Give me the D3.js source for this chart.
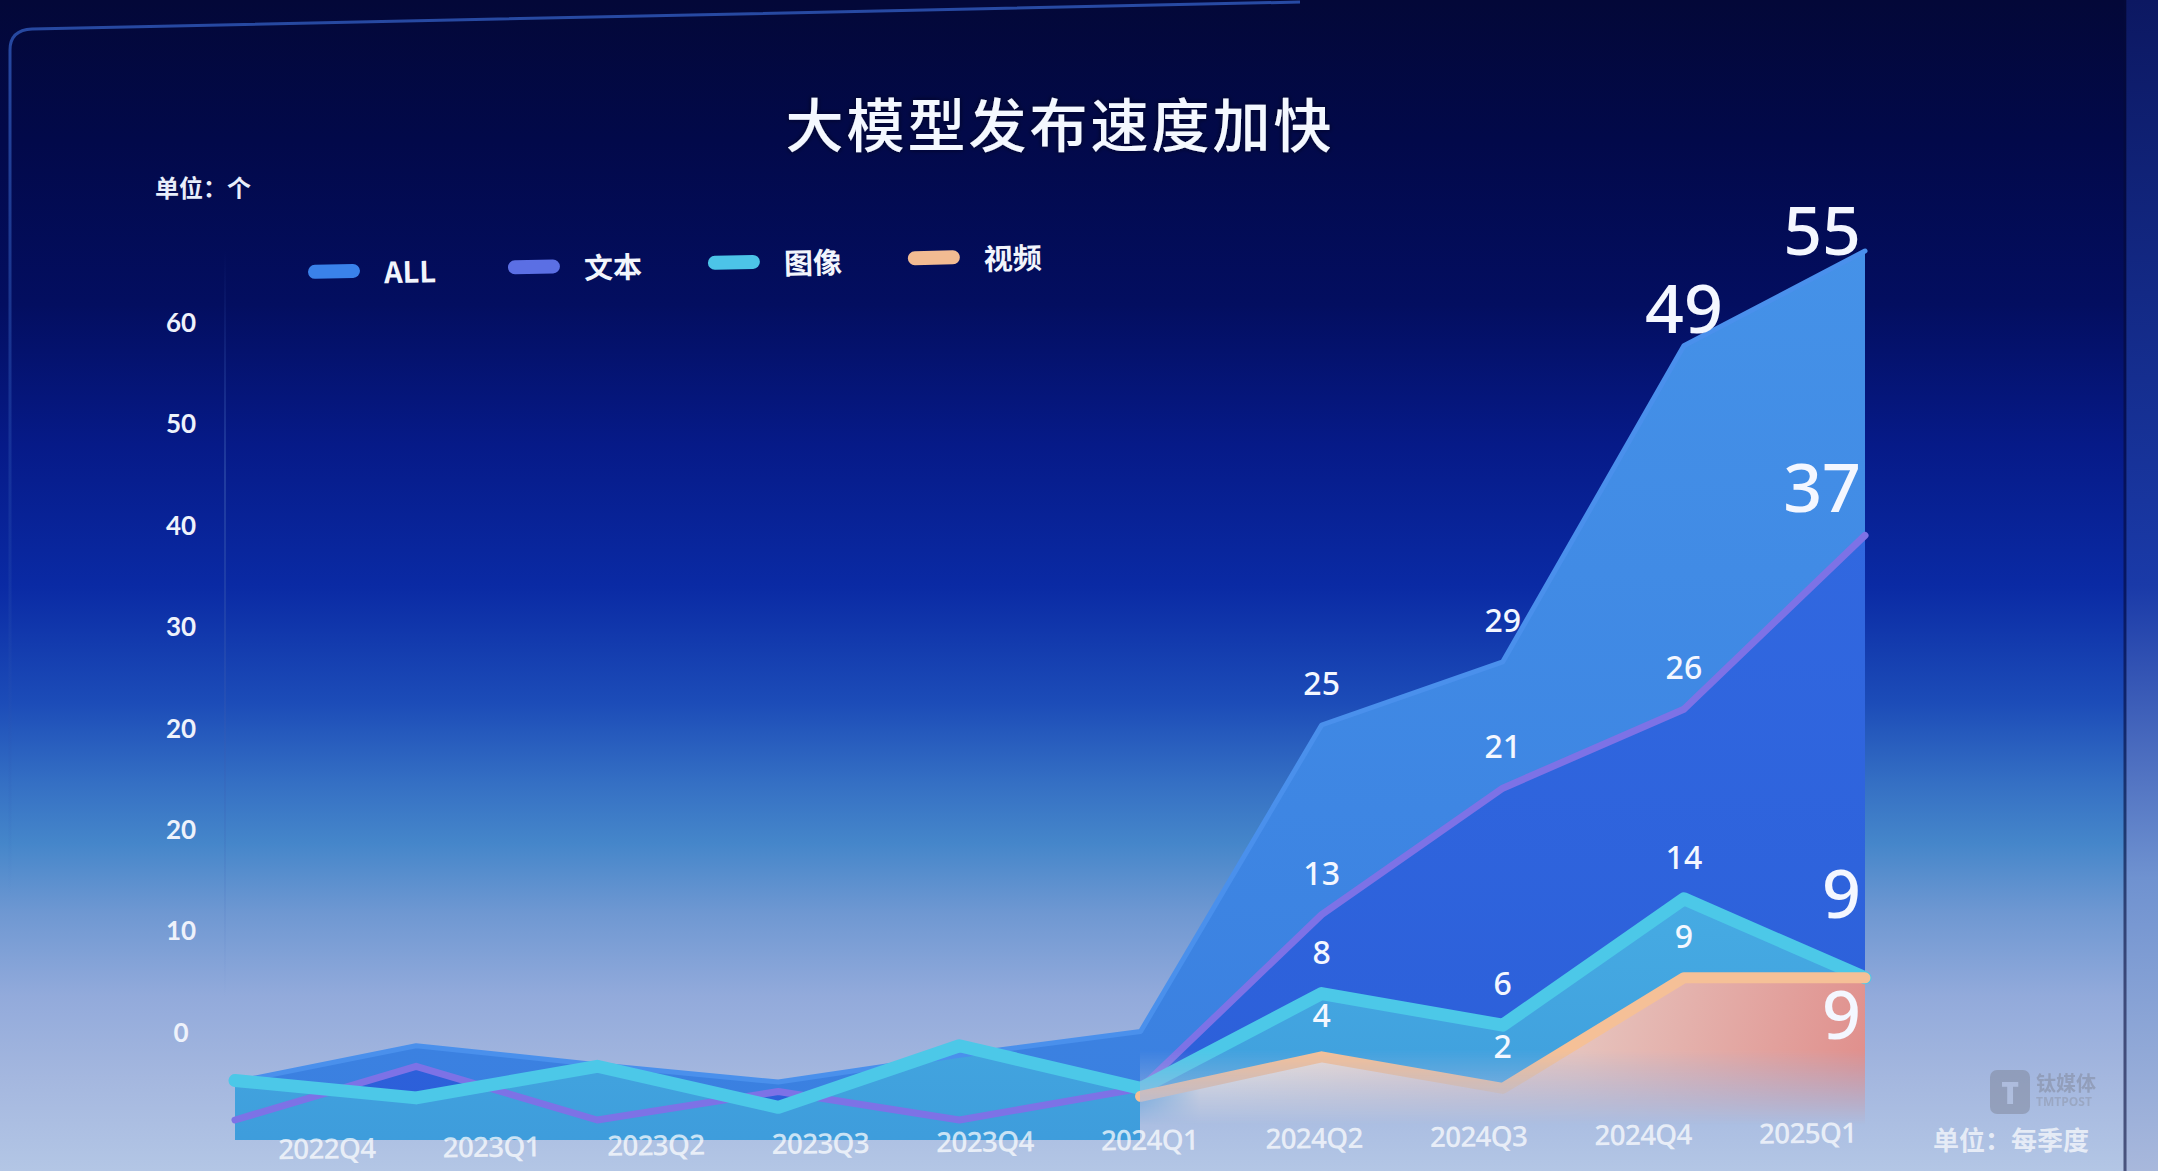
<!DOCTYPE html>
<html><head><meta charset="utf-8">
<script src="https://cdn.jsdelivr.net/npm/d3@7"></script>
<style>html,body{margin:0;padding:0;overflow:hidden;background:#030836}</style>
</head><body><svg id="c" width="2158" height="1171"></svg>
<script>
// ---------- data ----------
const quarters = ["2022Q4","2023Q1","2023Q2","2023Q3","2023Q4","2024Q1","2024Q2","2024Q3","2024Q4","2025Q1"];
const allValues   = [2.4, 4.7, 3.5, 2.4, 4.1, 5.6, 25, 29, 49, 55];
const textValues  = [0, 3.4, 0, 1.8, 0, 2, 13, 21, 26, 37];
const imageValues = [2.5, 1.4, 3.4, 0.8, 4.7, 2, 8, 6, 14, 9];
const videoValues = [null, null, null, null, null, 1.5, 4, 2, 9, 9];
const seriesNames = ["ALL","文本","图像","视频"];
const labeledQuarters = ["2024Q2","2024Q3","2024Q4","2025Q1"];
const yTickLabels = ["0","10","20","20","30","40","50","60"];
const titleText = "大模型发布速度加快";
const unitTop = "单位：个";
const unitBottom = "单位：每季度";

// ---------- setup ----------
const W = 2158, H = 1171;
const svg = d3.select("#c");
const defs = svg.append("defs");
function grad(id, stops, x1, y1, x2, y2) {
  const g = defs.append("linearGradient").attr("id", id)
    .attr("gradientUnits","userSpaceOnUse")
    .attr("x1",x1).attr("y1",y1).attr("x2",x2).attr("y2",y2);
  stops.forEach(s => g.append("stop").attr("offset", s[0]).attr("stop-color", s[1]).attr("stop-opacity", s[2] == null ? 1 : s[2]));
}
grad("bg", [[0,"#030838"],[0.12,"#02094a"],[0.26,"#030e60"],[0.38,"#061a88"],[0.5,"#0a2aa4"],[0.6,"#1c4cb8"],[0.67,"#3570c4"],[0.72,"#4586ca"],[0.78,"#6f98d2"],[0.85,"#92aadb"],[0.92,"#a4b7df"],[1,"#b3c6e5"]], 0,0,0,H);
grad("rightStrip", [[0,"#0c1862"],[0.5,"#1a3aa8"],[0.75,"#6f92d0"],[1,"#a8b8dc"]], 0,0,0,H);
grad("gAll", [[0,"#4592e8"],[1,"#3a7fe0"]], 0,240,0,1140);
grad("gText", [[0,"#3168e0"],[1,"#2c5fd9"]], 0,520,0,1140);
grad("gImg", [[0,"#48b0e4",0.95],[1,"#3fa0dc",0.95]], 0,880,0,1140);
grad("gVid", [[0,"#ece4de"],[0.55,"#e6c2bc"],[1,"#e08f8c"]], 1250,960,1860,1100);
grad("fadeBottom", [[0,"#fff"],[1,"#000"]], 0,1050,0,1125);
grad("fadeLeft", [[0,"#000"],[1,"#fff"]], 1140,0,1200,0);
grad("axisLine", [[0,"#3a5ab0",0],[0.3,"#3a5ab0",0.5],[1,"#3a5ab0",0]], 0,250,0,1000);
grad("frameLine", [[0,"#2c52b0",0.9],[0.6,"#2c52b0",0.3],[1,"#2c52b0",0]], 0,0,0,900);

const mask = defs.append("mask").attr("id","areaMask").attr("maskUnits","userSpaceOnUse")
  .attr("x",0).attr("y",0).attr("width",W).attr("height",H);
mask.append("rect").attr("width",W).attr("height",H).attr("fill","#fff");
mask.append("rect").attr("x",1140).attr("y",1040).attr("width",770).attr("height",140).attr("fill","url(#fadeBottom)");

const vidMask = defs.append("mask").attr("id","vidMask").attr("maskUnits","userSpaceOnUse")
  .attr("x",0).attr("y",0).attr("width",W).attr("height",H);
vidMask.append("rect").attr("width",W).attr("height",H).attr("fill","url(#fadeLeft)");

const glow = defs.append("filter").attr("id","glow").attr("x","-10%").attr("y","-30%").attr("width","120%").attr("height","160%");
glow.append("feGaussianBlur").attr("in","SourceAlpha").attr("stdDeviation",2.5).attr("result","b");
glow.append("feFlood").attr("flood-color","#000018").attr("flood-opacity",0.7);
glow.append("feComposite").attr("in2","b").attr("operator","in").attr("result","s");
const fm = glow.append("feMerge"); fm.append("feMergeNode").attr("in","s"); fm.append("feMergeNode").attr("in","SourceGraphic");

// background
svg.append("rect").attr("width",W).attr("height",H).attr("fill","url(#bg)");
svg.append("rect").attr("x",2126).attr("width",32).attr("height",H).attr("fill","url(#rightStrip)");
svg.append("line").attr("x1",2125).attr("x2",2125).attr("y1",0).attr("y2",H).attr("stroke","#050a3a").attr("stroke-width",3).attr("opacity",0.6);
svg.append("path").attr("d","M10,1171 L10,50 Q10,30 32,29 L1300,2").attr("fill","none")
  .attr("stroke","url(#frameLine)").attr("stroke-width",3);

// ---------- scales ----------
const dataX = d3.scalePoint().domain(quarters).range([235, 1865]);
const yData = d3.scaleLinear().domain([0, 55]).range([1120, 251]);
const plotBottom = 1140;
const xLabelScale = d3.scalePoint().domain(quarters).range([326, 1807]);
const yTickScale = d3.scalePoint().domain(d3.range(yTickLabels.length)).range([1033, 323]);

// faint y axis line
svg.append("line").attr("x1",225).attr("x2",225).attr("y1",250).attr("y2",1000)
  .attr("stroke","url(#axisLine)").attr("stroke-width",2);

// ---------- series ----------
const valueLists = [allValues, textValues, imageValues, videoValues];
const styles = [
  {fill:"url(#gAll)",  line:"#4a90ec", lw:5},
  {fill:"url(#gText)", line:"#7d72e6", lw:7},
  {fill:"url(#gImg)",  line:"#4cc8e8", lw:13},
  {fill:"url(#gVid)",  line:"#f5c097", lw:11}
];
const series = seriesNames.map((name, i) => ({
  name, style: styles[i],
  points: quarters.map((q, j) => ({q, v: valueLists[i][j]}))
}));

const area = d3.area().defined(d => d.v != null)
  .x(d => dataX(d.q)).y0(plotBottom).y1(d => yData(d.v));
const line = d3.line().defined(d => d.v != null)
  .x(d => dataX(d.q)).y(d => yData(d.v));

const areaG = svg.append("g").attr("mask","url(#areaMask)");
series.forEach((s, i) => {
  const p = areaG.append("path").attr("d", area(s.points)).attr("fill", s.style.fill);
  if (i === 3) p.attr("mask","url(#vidMask)");
});
series.forEach(s => {
  areaG.append("path").attr("d", line(s.points)).attr("fill","none")
    .attr("stroke", s.style.line).attr("stroke-width", s.style.lw)
    .attr("stroke-linejoin","round").attr("stroke-linecap","round");
});

// ---------- value labels ----------
const lastQ = quarters[quarters.length - 1];
const bigDy = {"ALL":4, "文本":-23, "图像":-60, "视频":61};
const lblG = svg.append("g").attr("font-family","'Noto Sans', 'Open Sans', sans-serif").attr("fill","#f4f7ff");
series.forEach(s => {
  s.points.filter(p => labeledQuarters.includes(p.q) && p.v != null).forEach(p => {
    const isLast = p.q === lastQ;
    const isBig = isLast || (s.name === "ALL" && p.q === "2024Q4");
    let dy = -30;
    if (isLast) dy = bigDy[s.name];
    else if (isBig) dy = -13;
    lblG.append("text")
      .attr("x", dataX(p.q) + (isLast ? -4 : 0))
      .attr("y", yData(p.v) + dy)
      .attr("text-anchor", isLast ? "end" : "middle")
      .attr("font-size", isBig ? 68 : 32)
      .attr("font-weight", 500)
      .text(p.v);
  });
});

// ---------- axes ----------
const yAxisG = svg.append("g").attr("transform","translate(200,0)")
  .call(d3.axisLeft(yTickScale).tickSize(0).tickFormat(i => yTickLabels[i]));
yAxisG.select(".domain").remove();
yAxisG.selectAll("text").attr("x",-19).attr("text-anchor","middle")
  .attr("font-family","Lato, 'Open Sans', sans-serif").attr("font-size",26).attr("font-weight",700)
  .attr("fill","#eef2fb");

const xAxisG = svg.append("g").attr("transform","translate(0,1128) rotate(-0.6,1066,0)")
  .call(d3.axisBottom(xLabelScale).tickSize(0));
xAxisG.select(".domain").remove();
xAxisG.selectAll("text").attr("font-family","'Open Sans', sans-serif").attr("font-size",28)
  .attr("font-weight",600).attr("letter-spacing",-0.8).attr("fill","#ffffff").attr("fill-opacity",0.72);

// ---------- titles ----------
svg.append("text").attr("x",1060).attr("y",122).attr("text-anchor","middle").attr("dominant-baseline","central")
  .attr("font-family","'Noto Sans CJK SC', sans-serif").attr("font-size",58).attr("font-weight",500)
  .attr("fill","#f4f8ff").attr("filter","url(#glow)").attr("letter-spacing",3).text(titleText);
svg.append("text").attr("x",155).attr("y",186).attr("dominant-baseline","central")
  .attr("font-family","'Noto Sans CJK SC', sans-serif").attr("font-size",24).attr("font-weight",700)
  .attr("fill","#e8eefa").text(unitTop);
svg.append("text").attr("x",1933).attr("y",1138).attr("dominant-baseline","central")
  .attr("font-family","'Noto Sans CJK SC', sans-serif").attr("font-size",26).attr("font-weight",700)
  .attr("fill","#ffffff").attr("fill-opacity",0.7).text(unitBottom);

// ---------- legend ----------
const legendColors = ["#3a82ea","#5b6fe4","#4cc4e8","#f2bb92"];
const legG = svg.append("g").attr("transform","translate(308,272) rotate(-1.3)");
seriesNames.forEach((n, i) => {
  const g = legG.append("g").attr("transform", `translate(${i * 200},0)`);
  g.append("rect").attr("x",0).attr("y",-7).attr("width",52).attr("height",14).attr("rx",7)
    .attr("fill", legendColors[i]);
  g.append("text").attr("x",76).attr("y",0).attr("dominant-baseline","central")
    .attr("font-family","'Noto Sans CJK SC', sans-serif").attr("font-size",29).attr("font-weight",700)
    .attr("fill","#f2f5fc").text(n);
});

// ---------- watermark ----------
const wm = svg.append("g").attr("opacity",0.45);
wm.append("rect").attr("x",1990).attr("y",1070).attr("width",40).attr("height",44).attr("rx",7).attr("fill","#7a7f90");
wm.append("text").attr("x",2010).attr("y",1092).attr("text-anchor","middle").attr("dominant-baseline","central")
  .attr("font-family","'Open Sans', sans-serif").attr("font-size",30).attr("font-weight",800).attr("fill","#b9c3dc").text("T");
wm.append("text").attr("x",2036).attr("y",1082).attr("dominant-baseline","central")
  .attr("font-family","'Noto Sans CJK SC', sans-serif").attr("font-size",20).attr("font-weight",700).attr("fill","#7c8090").text("钛媒体");
wm.append("text").attr("x",2036).attr("y",1101).attr("dominant-baseline","central")
  .attr("font-family","'Open Sans', sans-serif").attr("font-size",12).attr("font-weight",700).attr("fill","#8a90a0").text("TMTPOST");
</script>
</body></html>
